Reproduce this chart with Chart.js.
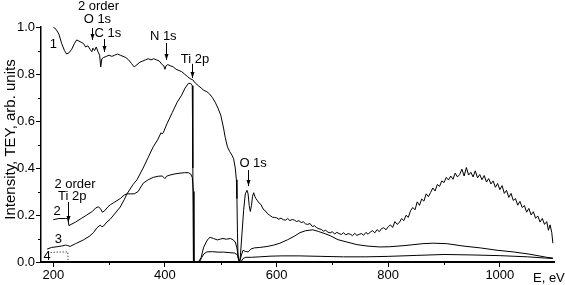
<!DOCTYPE html>
<html>
<head>
<meta charset="utf-8">
<script src="https://cdn.jsdelivr.net/npm/chart.js@4"></script>
<style>
  html, body { margin: 0; padding: 0; background: #fff; }
  #wrap { width: 565px; height: 285px; }
</style>
</head>
<body>
<div id="wrap"><canvas id="xasChart"></canvas></div>
<script>
// Curve 1: [E, intensity]
const curve1 = [
  [200,1.00],[205,0.99],[210,0.97],[215,0.93],[220,0.90],[224,0.885],[228,0.89],[233,0.905],
  [238,0.93],[242,0.945],[246,0.94],[250,0.935],[254,0.93],[258,0.915],[262,0.92],[266,0.905],
  [269,0.895],[271,0.91],[274,0.90],[277,0.915],[280,0.895],[283,0.88],[285,0.83],[287,0.865],
  [290,0.87],[295,0.875],[300,0.88],[305,0.875],[310,0.88],[315,0.885],[320,0.88],[325,0.875],
  [330,0.87],[335,0.86],[340,0.845],[345,0.83],[350,0.84],[355,0.85],[360,0.855],[365,0.86],
  [370,0.865],[375,0.86],[380,0.865],[385,0.86],[390,0.855],[395,0.84],[398,0.835],[400,0.82],
  [402,0.835],[405,0.84],[410,0.835],[415,0.83],[420,0.82],[425,0.815],[430,0.81],[435,0.80],
  [440,0.79],[445,0.78],[450,0.775],[455,0.76],[460,0.75],[465,0.74],[470,0.73],[475,0.725],
  [480,0.715],[485,0.70],[490,0.68],[495,0.655],[500,0.625],[505,0.57],[508,0.53],[512,0.49],
  [516,0.47],[520,0.455],[523,0.44],[526,0.40],[528,0.35],[529,0.27],[530,0.12],[531,0.02],
  [533,0.0],[535,0.02],[538,0.12],[541,0.22],[544,0.29],[547,0.305],[549,0.29],[551,0.24],
  [553,0.215],[555,0.24],[557,0.28],[559,0.295],[561,0.28],[563,0.27],[566,0.26],[569,0.25],
  [572,0.245],[575,0.23],[578,0.22],[581,0.215],[584,0.205],[587,0.20],[590,0.195],[593,0.19],
  [596,0.19],[600,0.188],[604,0.182],[608,0.187],[612,0.180],[616,0.178],[620,0.185],[624,0.176],
  [628,0.181],[632,0.178],[636,0.172],[640,0.176],[644,0.168],[648,0.171],[652,0.162],[656,0.160],
  [660,0.164],[664,0.151],[668,0.154],[672,0.146],[676,0.141],[680,0.139],[684,0.131],[688,0.135],
  [692,0.127],[696,0.124],[700,0.129],[704,0.119],[708,0.126],[712,0.121],[716,0.117],[720,0.125],
  [724,0.115],[728,0.121],[732,0.118],[736,0.112],[740,0.122],[744,0.113],[748,0.118],[752,0.121],
  [756,0.114],[760,0.126],[764,0.118],[768,0.128],[772,0.133],[776,0.124],[780,0.138],[784,0.129],
  [788,0.142],[792,0.146],[796,0.137],[800,0.150],[804,0.158],[808,0.147],[812,0.172],[816,0.160],
  [820,0.168],[824,0.185],[828,0.176],[832,0.199],[836,0.190],[840,0.218],[844,0.232],[848,0.222],
  [852,0.256],[856,0.241],[860,0.268],[864,0.259],[868,0.290],[872,0.278],[876,0.296],[880,0.315],
  [884,0.302],[888,0.330],[892,0.322],[896,0.345],[900,0.338],[904,0.360],[908,0.349],[912,0.366],
  [916,0.352],[920,0.378],[924,0.362],[928,0.372],[932,0.395],[936,0.366],[940,0.402],[944,0.370],
  [948,0.382],[952,0.362],[956,0.388],[960,0.358],[964,0.372],[968,0.350],[972,0.368],[976,0.340],
  [980,0.355],[984,0.332],[988,0.345],[992,0.318],[996,0.334],[1000,0.308],[1004,0.325],[1008,0.292],
  [1012,0.305],[1016,0.275],[1020,0.292],[1024,0.262],[1028,0.270],[1032,0.242],[1036,0.258],
  [1040,0.232],[1044,0.240],[1048,0.212],[1052,0.228],[1056,0.200],[1060,0.214],[1064,0.186],
  [1068,0.196],[1072,0.170],[1076,0.185],[1080,0.160],[1084,0.172],[1087,0.135],[1090,0.158],
  [1093,0.125],[1095,0.08]
];

const curve2 = [
  [200,0.18],[210,0.185],[222,0.185],[226,0.185],[228,0.155],[232,0.16],[240,0.17],[250,0.185],
  [260,0.20],[270,0.215],[276,0.23],[281,0.235],[285,0.225],[288,0.212],[292,0.218],[298,0.235],
  [303,0.245],[310,0.255],[320,0.27],[327,0.285],[332,0.29],[338,0.29],[345,0.29],[352,0.30],
  [361,0.335],[370,0.35],[379,0.36],[388,0.365],[395,0.366],[398,0.36],[400,0.355],[403,0.365],
  [409,0.37],[418,0.375],[427,0.378],[435,0.38],[442,0.38],[446,0.375],[449,0.36],[451,0.30],
  [452,0.0],[462,0.0],[466,0.02],[470,0.035],[475,0.043],[485,0.044],[495,0.042],[505,0.042],
  [515,0.04],[525,0.038],[530,0.03],[533,0.005],[536,0.0],[540,0.015],[545,0.02],[555,0.02],
  [570,0.022],[590,0.025],[610,0.026],[640,0.026],[680,0.024],[720,0.022],[760,0.022],[800,0.024],
  [850,0.028],[900,0.032],[950,0.03],[1000,0.027],[1050,0.022],[1080,0.017],[1095,0.015]
];

const curve3 = [
  [189,0.055],[197,0.062],[207,0.065],[215,0.068],[222,0.072],[226,0.07],[230,0.066],[240,0.078],
  [254,0.094],[265,0.11],[272,0.125],[278,0.145],[284,0.157],[287,0.15],[290,0.153],[296,0.17],
  [302,0.182],[310,0.205],[320,0.234],[327,0.265],[332,0.29],[343,0.33],[350,0.35],[361,0.40],
  [370,0.445],[379,0.49],[387,0.52],[393,0.55],[395,0.545],[397,0.55],[404,0.59],[413,0.635],
  [422,0.68],[430,0.71],[436,0.74],[442,0.76],[446,0.76],[449,0.75],[450,0.40],[451,0.0],
  [460,0.0],[465,0.02],[469,0.06],[474,0.085],[478,0.10],[481,0.105],[487,0.10],[494,0.094],
  [500,0.098],[504,0.10],[510,0.097],[517,0.10],[522,0.095],[526,0.085],[529,0.06],[532,0.01],
  [534,0.0],[537,0.03],[540,0.05],[544,0.045],[549,0.043],[554,0.055],[560,0.06],[570,0.062],
  [583,0.066],[595,0.072],[606,0.08],[620,0.095],[632,0.11],[642,0.125],[652,0.133],[665,0.137],
  [675,0.13],[685,0.122],[696,0.112],[710,0.095],[726,0.085],[744,0.074],[762,0.068],[785,0.064],
  [803,0.065],[830,0.07],[862,0.078],[880,0.08],[905,0.078],[934,0.068],[965,0.06],[995,0.05],
  [1024,0.043],[1054,0.033],[1084,0.02],[1095,0.017]
];

const curve4 = [[190,0.04],[205,0.042],[226,0.043],[226.5,0.0]];

// axis ticks
const xMajorTicks = [200, 400, 600, 800, 1000];
const xMinorTicks = [300, 500, 700, 900];
const yMajorTicks = [0.0, 0.2, 0.4, 0.6, 0.8, 1.0];
const yMinorTicks = [0.1, 0.3, 0.5, 0.7, 0.9];

// edge markers: [E, arrow top, arrow bottom]
const arrows = [
  [270, 0.996, 0.945],
  [290, 0.949, 0.894],
  [402, 0.932, 0.86],
  [449, 0.843, 0.783],
  [549, 0.391, 0.323],
  [227, 0.255, 0.17]
];
// labels: [text, E, value]
const labels = [
  ["2 order", 281, 1.072],
  ["O 1s", 279, 1.017],
  ["C 1s", 298, 0.957],
  ["N 1s", 397, 0.945],
  ["Ti 2p", 454, 0.847],
  ["O 1s", 558, 0.404],
  ["2 order", 239, 0.315],
  ["Ti 2p", 234, 0.264],
  ["1", 200, 0.91],
  ["2", 207, 0.20],
  ["3", 209, 0.081],
  ["4", 189, 0.009]
];

const FONT = "Liberation Sans, Arial, sans-serif";

const toXY = (arr) => arr.map((p) => ({ x: p[0], y: p[1] }));

const line = (data, dash) => ({
  data: toXY(data),
  borderColor: "#000",
  borderWidth: 1,
  borderDash: dash || [],
  pointRadius: 0,
  tension: 0,
  fill: false,
});

const decorations = {
  id: "decorations",
  afterDraw(chart) {
    const c = chart.ctx;
    const xs = chart.scales.x;
    const ys = chart.scales.y;
    const area = chart.chartArea;
    c.save();
    c.strokeStyle = "#000";
    c.fillStyle = "#000";
    c.lineWidth = 1;

    // minor ticks
    xMinorTicks.forEach((v) => {
      const px = Math.round(xs.getPixelForValue(v)) + 0.5;
      c.beginPath();
      c.moveTo(px, area.bottom);
      c.lineTo(px, area.bottom + 3);
      c.stroke();
    });
    yMinorTicks.forEach((v) => {
      const py = Math.round(ys.getPixelForValue(v)) + 0.5;
      c.beginPath();
      c.moveTo(area.left, py);
      c.lineTo(area.left - 3, py);
      c.stroke();
    });

    // arrows
    arrows.forEach((a) => {
      const px = Math.round(xs.getPixelForValue(a[0])) + 0.5;
      const y1 = ys.getPixelForValue(a[1]);
      const y2 = ys.getPixelForValue(a[2]);
      c.beginPath();
      c.moveTo(px, y1);
      c.lineTo(px, y2);
      c.stroke();
      c.beginPath();
      c.moveTo(px - 2, y2 - 6);
      c.lineTo(px + 2, y2 - 6);
      c.lineTo(px, y2);
      c.closePath();
      c.fill();
    });

    // labels
    c.font = "13px " + FONT;
    c.textAlign = "center";
    c.textBaseline = "alphabetic";
    labels.forEach((l) => {
      c.fillText(l[0], xs.getPixelForValue(l[1]), ys.getPixelForValue(l[2]));
    });

    // axis titles
    c.textAlign = "left";
    c.fillText("E, eV", area.right - 21, area.bottom + 20);
    c.translate(15, (area.top + area.bottom) / 2 - 5);
    c.rotate(-Math.PI / 2);
    c.textAlign = "center";
    c.font = "15px " + FONT;
    c.fillText("Intensity, TEY, arb. units", 0, 0);
    c.restore();
  },
};

new Chart(document.getElementById("xasChart"), {
  type: "line",
  data: {
    datasets: [line(curve1), line(curve2), line(curve3), line(curve4, [1, 2])],
  },
  options: {
    responsive: true,
    maintainAspectRatio: false,
    animation: false,
    parsing: false,
    layout: { padding: { left: 0, right: 11, top: 27, bottom: 0 } },
    plugins: {
      legend: { display: false },
      tooltip: { enabled: false },
    },
    scales: {
      x: {
        type: "linear",
        min: 178,
        max: 1097,
        afterFit: (scale) => { scale.height = 23; },
        afterBuildTicks: (scale) => { scale.ticks = xMajorTicks.map((v) => ({ value: v })); },
        grid: { drawOnChartArea: false, drawTicks: true, tickLength: 5, color: "#000" },
        border: { display: true, color: "#000", width: 2 },
        ticks: {
          color: "#000",
          padding: 1,
          maxRotation: 0,
          font: { family: FONT, size: 13 },
          callback: (v) => String(v),
        },
      },
      y: {
        type: "linear",
        min: 0,
        max: 1,
        afterFit: (scale) => { scale.width = 41; },
        afterBuildTicks: (scale) => { scale.ticks = yMajorTicks.map((v) => ({ value: v })); },
        grid: { drawOnChartArea: false, drawTicks: true, tickLength: 5, color: "#000" },
        border: { display: true, color: "#000", width: 1.5 },
        ticks: {
          color: "#000",
          padding: 1,
          font: { family: FONT, size: 13 },
          callback: (v) => v.toFixed(1),
        },
      },
    },
  },
  plugins: [decorations],
});
</script>
</body>
</html>
